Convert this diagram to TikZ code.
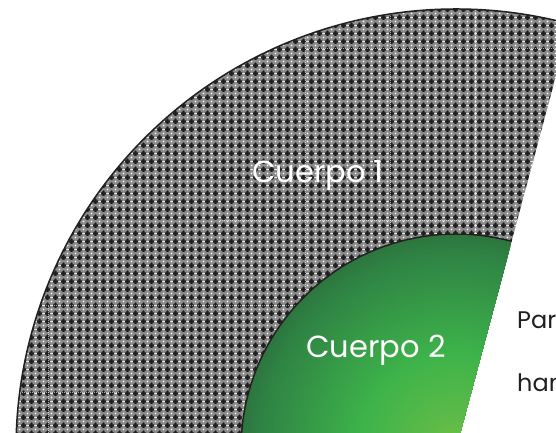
\documentclass[tikz,border=0pt]{standalone}
\usepackage{fontspec}
\setmainfont{Poppins}
\usetikzlibrary{patterns}
\definecolor{patgray}{RGB}{138,138,138}
\definecolor{patdark}{RGB}{30,30,30}
\definecolor{ink}{RGB}{35,31,32}
\definecolor{ga}{RGB}{112,194,70}
\definecolor{gb}{RGB}{92,186,72}
\definecolor{gc}{RGB}{61,179,74}
\definecolor{gd}{RGB}{47,132,68}
\definecolor{ge}{RGB}{45,118,63}
\pgfdeclarepatterninherentlycolored{crossdots}{\pgfpointorigin}{\pgfpoint{8pt}{8pt}}{\pgfpoint{8pt}{8pt}}{%
  \pgfsetfillcolor{patgray}%
  \pgfpathrectangle{\pgfpointorigin}{\pgfpoint{8pt}{8pt}}\pgfusepath{fill}%
  \pgfsetfillcolor{patdark}%
  \pgfpathrectangle{\pgfpoint{-0.8pt}{-2.3pt}}{\pgfpoint{1.6pt}{4.6pt}}%
  \pgfpathrectangle{\pgfpoint{-2.3pt}{-0.8pt}}{\pgfpoint{4.6pt}{1.6pt}}%
  \pgfpathrectangle{\pgfpoint{7.2pt}{-2.3pt}}{\pgfpoint{1.6pt}{4.6pt}}%
  \pgfpathrectangle{\pgfpoint{5.7pt}{-0.8pt}}{\pgfpoint{4.6pt}{1.6pt}}%
  \pgfpathrectangle{\pgfpoint{-0.8pt}{5.7pt}}{\pgfpoint{1.6pt}{4.6pt}}%
  \pgfpathrectangle{\pgfpoint{-2.3pt}{7.2pt}}{\pgfpoint{4.6pt}{1.6pt}}%
  \pgfpathrectangle{\pgfpoint{7.2pt}{5.7pt}}{\pgfpoint{1.6pt}{4.6pt}}%
  \pgfpathrectangle{\pgfpoint{5.7pt}{7.2pt}}{\pgfpoint{4.6pt}{1.6pt}}%
  \pgfusepath{fill}%
  \pgfsetfillcolor{white}%
  \pgfpathcircle{\pgfpoint{4pt}{4pt}}{1.1pt}\pgfusepath{fill}%
}
\tikzset{
  outline/.style={draw=ink, line width=1.5pt},
  seam/.style={draw=white, line width=0.6pt, dash pattern=on 1pt off 1pt, opacity=0.6},
  whitelabel/.style={text=white, inner sep=0pt, font=\fontsize{30.5}{36}\selectfont},
  darklabel/.style={text=ink, inner sep=0pt, anchor=base west, font=\fontsize{24}{29}\selectfont}
}
\begin{document}
\begin{tikzpicture}[x=1pt,y=1pt]
\useasboundingbox (0,0) rectangle (556,433);
\clip (0,0) rectangle (556,433);
\coordinate (C) at (456,-16);
% outer ring (Cuerpo 1)
\fill[pattern=crossdots] ([shift={(75:440)}]C) arc[start angle=75,end angle=180,radius=440]
   -- ([shift={(180:215)}]C) arc[start angle=180,end angle=75,radius=215] -- cycle;
\begin{scope}
  \clip ([shift={(75:440)}]C) arc[start angle=75,end angle=180,radius=440]
   -- ([shift={(180:215)}]C) arc[start angle=180,end angle=75,radius=215] -- cycle;
  \draw[seam] (48,0) -- (48,128);
  \draw[seam] (305,128) -- (305,433);
  \draw[seam] (390,200) -- (390,433);
  \draw[seam] (475,200) -- (475,433);
  \draw[seam] (305,385) -- (556,385);
  \draw[seam] (220,213) -- (556,213);
  \draw[seam] (0,128) -- (305,128);
  \draw[seam] (0,41) -- (120,41);
\end{scope}
% inner sector (Cuerpo 2): radial gradient from the centre
\begin{scope}
  \clip (C) -- ([shift={(75:215)}]C) arc[start angle=75,end angle=180,radius=215] -- cycle;
  \foreach \rr in {215,213,...,195}{
    \pgfmathtruncatemacro{\p}{(215-\rr)/20*100}
    \fill[gd!\p!ge] (C) circle[radius=\rr];
  }
  \foreach \rr in {193,191,...,97}{
    \pgfmathtruncatemacro{\p}{(195-\rr)/98*100}
    \fill[gc!\p!gd] (C) circle[radius=\rr];
  }
  \foreach \rr in {95,93,...,34}{
    \pgfmathtruncatemacro{\p}{(97-\rr)/63*100}
    \fill[gb!\p!gc] (C) circle[radius=\rr];
  }
  \foreach \rr in {32,30,...,2}{
    \pgfmathtruncatemacro{\p}{(34-\rr)/34*100}
    \fill[ga!\p!gb] (C) circle[radius=\rr];
  }
\end{scope}
% outlines
\draw[outline] ([shift={(75:440)}]C) arc[start angle=75,end angle=180,radius=440];
\draw[outline] ([shift={(75:215)}]C) arc[start angle=75,end angle=180,radius=215];
% labels
\node[whitelabel, anchor=base] (c1) at (318,250) {Cuerpo 1};
\node[whitelabel, anchor=base] (c2) at (376,75) {Cuerpo 2};
\node[darklabel] (t1) at (517,104) {Par};
\node[darklabel] (t2) at (517,41) {ham};
\end{tikzpicture}
\end{document}
